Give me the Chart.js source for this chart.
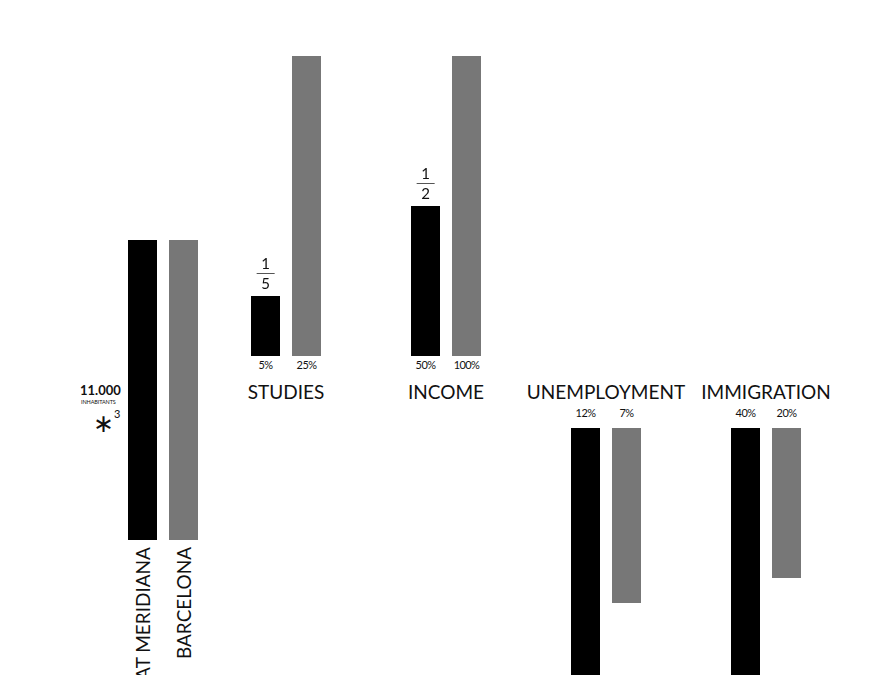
<!DOCTYPE html>
<html>
<head>
<meta charset="utf-8">
<script src="https://cdn.jsdelivr.net/npm/chart.js@4.4.0/dist/chart.umd.min.js"></script>
<style>
  html, body { margin: 0; padding: 0; background: #fff; }
  body { width: 892px; height: 675px; overflow: hidden; position: relative; font-family: Lato, 'Noto Sans', sans-serif; color: #111; }
  canvas { position: absolute; }
  .t { position: absolute; white-space: nowrap; line-height: 1; }
  .title { font-size: 19px; transform: translate(-50%, -50%); }
  .pct { font-size: 11px; letter-spacing: -0.6px; transform: translate(-50%, -50%); font-family: 'Liberation Sans Narrow', Lato, sans-serif; }
  .vert { font-size: 19px; left: 0; top: 0; transform-origin: 0 0; }
  .frac { position: absolute; transform: translateX(-50%); text-align: center; font-size: 15px; line-height: 15px; }
  .frac .num { border-bottom: 1px solid #555; padding: 0 5px 2px; }
  .frac .den { padding-top: 2px; }
</style>
</head>
<body>
<script>
  // data
  const areas = ['CIUTAT MERIDIANA', 'BARCELONA'];
  const groupTitles = ['STUDIES', 'INCOME', 'UNEMPLOYMENT', 'IMMIGRATION'];
  const populationIndex = [1, 1];
  const studiesValues = [5, 25];
  const incomeValues = [50, 100];
  const unemploymentValues = [12, 7];
  const immigrationValues = [40, 20];
  const fractionLabels = [['1', '5'], ['1', '2']];

  const colors = ['#000000', '#777777'];

  // where each small chart sits on the page
  const layout = [
    { values: populationIndex, left: 122, base: 540, down: false, title: null, pct: false },
    { values: studiesValues, left: 245, base: 356, down: false, title: groupTitles[0], pct: true, frac: fractionLabels[0] },
    { values: incomeValues, left: 405, base: 356, down: false, title: groupTitles[1], pct: true, frac: fractionLabels[1] },
    { values: unemploymentValues, left: 565, base: 428, down: true, title: groupTitles[2], pct: true },
    { values: immigrationValues, left: 725, base: 428, down: true, title: groupTitles[3], pct: true }
  ];
  const W = 82, H = 300;

  function addText(cls, text, x, y) {
    const d = document.createElement('div');
    d.className = 't ' + cls;
    d.textContent = text;
    d.style.left = x + 'px';
    d.style.top = y + 'px';
    document.body.appendChild(d);
    return d;
  }

  layout.forEach(g => {
    const cv = document.createElement('canvas');
    cv.width = W;
    cv.height = H;
    cv.style.left = g.left + 'px';
    cv.style.top = (g.down ? g.base : g.base - H) + 'px';
    document.body.appendChild(cv);

    const chart = new Chart(cv.getContext('2d'), {
      type: 'bar',
      data: {
        labels: areas,
        datasets: [{ data: g.values, backgroundColor: colors, borderWidth: 0, barPercentage: 29 / 41, categoryPercentage: 1 }]
      },
      options: {
        responsive: false,
        animation: false,
        layout: { padding: 0 },
        plugins: { legend: { display: false }, tooltip: { enabled: false } },
        scales: {
          x: { display: false },
          y: { display: false, min: 0, max: Math.max(...g.values), reverse: g.down }
        }
      }
    });

    const xs = g.values.map((v, i) => g.left + chart.scales.x.getPixelForValue(i));

    if (g.pct) {
      g.values.forEach((v, i) => {
        addText('pct', v + '%', xs[i], g.down ? g.base - 16 : g.base + 8);
      });
    }
    if (g.title) {
      addText('title', g.title, (xs[0] + xs[1]) / 2, 391);
    }
    if (g.frac) {
      const top = g.base - H + chart.scales.y.getPixelForValue(g.values[0]);
      const f = document.createElement('div');
      f.className = 'frac';
      f.innerHTML = '<div class="num">' + g.frac[0] + '</div><div class="den">' + g.frac[1] + '</div>';
      f.style.left = xs[0] + 'px';
      f.style.top = (top - 40) + 'px';
      document.body.appendChild(f);
    }
    if (!g.title) {
      // vertical area names under the population bars
      areas.forEach((a, i) => {
        const d = addText('vert', a, 0, 0);
        d.style.transform = 'translate(' + xs[i] + 'px,' + (g.base + 7) + 'px) rotate(-90deg) translate(-100%, -50%)';
      });
    }
  });

  // population note
  const n1 = addText('', '11.000', 80, 384);
  n1.style.fontWeight = 'bold';
  n1.style.fontSize = '13px';
  const n2 = addText('', 'INHABITANTS', 81, 400);
  n2.style.fontSize = '5.5px';
  n2.style.letterSpacing = '-0.1px';
  const n3 = addText('', '\u2217', 93, 414);
  n3.style.fontSize = '25px';
  n3.style.lineHeight = '16px';
  const n4 = addText('', '3', 114, 408);
  n4.style.fontSize = '11px';
</script>
</body>
</html>
